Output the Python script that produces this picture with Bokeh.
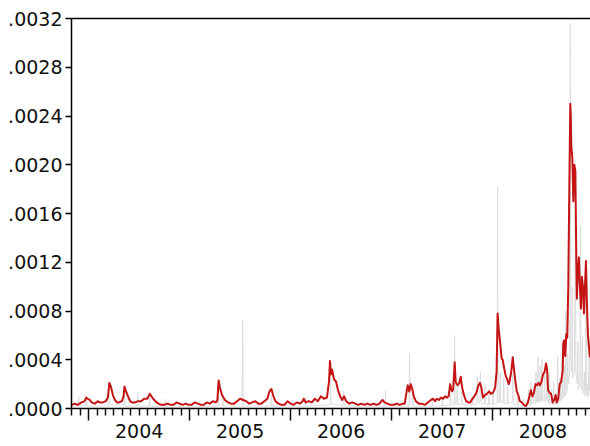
from bokeh.plotting import figure
from bokeh.models import Range1d, LinearAxis, FixedTicker, CustomJSTickFormatter
from bokeh.embed import file_html
from bokeh.resources import INLINE

# calendar years shown on the time axis
years = [2004, 2005, 2006, 2007, 2008]
y_ticks = [0.0000, 0.0004, 0.0008, 0.0012, 0.0016, 0.0020, 0.0024, 0.0028, 0.0032]

# conditional variance (decimal year, value)
cond_var = [
    (2003.832, 0.00003), (2003.86, 0.00004), (2003.89, 0.00003), (2003.93, 0.00005),
    (2003.96, 0.00006), (2003.975, 0.00009), (2003.99, 0.00008), (2004.01, 0.00007),
    (2004.03, 0.00005), (2004.06, 0.00004), (2004.09, 0.00006), (2004.11, 0.00005),
    (2004.14, 0.00005), (2004.17, 0.00006), (2004.19, 0.00009), (2004.205, 0.00021),
    (2004.22, 0.00018), (2004.24, 0.00011), (2004.26, 0.00007), (2004.28, 0.00005),
    (2004.30, 0.00005), (2004.33, 0.00006), (2004.345, 0.00010), (2004.355, 0.00018),
    (2004.37, 0.00014), (2004.39, 0.00010), (2004.41, 0.00006), (2004.43, 0.00005),
    (2004.46, 0.00005), (2004.49, 0.00006), (2004.52, 0.00006), (2004.55, 0.00008),
    (2004.58, 0.00008), (2004.605, 0.00012), (2004.63, 0.00009), (2004.66, 0.00006),
    (2004.69, 0.00004), (2004.72, 0.00003), (2004.75, 0.00003), (2004.78, 0.00004),
    (2004.81, 0.00003), (2004.84, 0.00003), (2004.87, 0.00005), (2004.90, 0.00004),
    (2004.93, 0.00003), (2004.96, 0.00004), (2004.99, 0.00003), (2005.02, 0.00003),
    (2005.05, 0.00005), (2005.08, 0.00004), (2005.11, 0.00003), (2005.14, 0.00003),
    (2005.17, 0.00005), (2005.20, 0.00004), (2005.23, 0.00006), (2005.26, 0.00005),
    (2005.275, 0.00007), (2005.287, 0.00023), (2005.30, 0.00017), (2005.32, 0.00011),
    (2005.35, 0.00007), (2005.38, 0.00005), (2005.41, 0.00004), (2005.44, 0.00004),
    (2005.47, 0.00006), (2005.50, 0.00008), (2005.53, 0.00007), (2005.56, 0.00006),
    (2005.59, 0.00004), (2005.62, 0.00005), (2005.65, 0.00006), (2005.68, 0.00004),
    (2005.71, 0.00004), (2005.74, 0.00006), (2005.77, 0.00008), (2005.79, 0.00014),
    (2005.81, 0.00016), (2005.83, 0.00010), (2005.85, 0.00006), (2005.88, 0.00004),
    (2005.91, 0.00003), (2005.94, 0.00003), (2005.97, 0.00006), (2006.00, 0.00004),
    (2006.03, 0.00003), (2006.06, 0.00005), (2006.09, 0.00004), (2006.12, 0.00006),
    (2006.13, 0.00008), (2006.15, 0.00005), (2006.18, 0.00006), (2006.21, 0.00005),
    (2006.24, 0.00008), (2006.27, 0.00006), (2006.30, 0.00010), (2006.33, 0.00008),
    (2006.36, 0.00009), (2006.38, 0.00022), (2006.39, 0.00039), (2006.40, 0.00028),
    (2006.41, 0.00032), (2006.43, 0.00024), (2006.45, 0.00022), (2006.47, 0.00015),
    (2006.49, 0.00010), (2006.51, 0.00007), (2006.53, 0.00010), (2006.55, 0.00006),
    (2006.58, 0.00004), (2006.61, 0.00005), (2006.64, 0.00004), (2006.67, 0.00003),
    (2006.70, 0.00004), (2006.73, 0.00003), (2006.76, 0.00004), (2006.79, 0.00003),
    (2006.82, 0.00004), (2006.85, 0.00003), (2006.88, 0.00004), (2006.91, 0.00007),
    (2006.93, 0.00005), (2006.96, 0.00004), (2006.99, 0.00003), (2007.02, 0.00003),
    (2007.05, 0.00004), (2007.08, 0.00003), (2007.11, 0.00004), (2007.13, 0.00004),
    (2007.145, 0.00012), (2007.16, 0.00019), (2007.175, 0.00014), (2007.19, 0.00020),
    (2007.205, 0.00016), (2007.22, 0.00010), (2007.24, 0.00006), (2007.27, 0.00004),
    (2007.30, 0.00004), (2007.33, 0.00003), (2007.36, 0.00005), (2007.39, 0.00007),
    (2007.41, 0.00008), (2007.43, 0.00006), (2007.45, 0.00008), (2007.47, 0.00007),
    (2007.49, 0.00009), (2007.51, 0.00008), (2007.53, 0.00010), (2007.55, 0.00009),
    (2007.565, 0.00010), (2007.58, 0.00020), (2007.59, 0.00016), (2007.60, 0.00014),
    (2007.61, 0.00016), (2007.625, 0.00038), (2007.635, 0.00022), (2007.645, 0.00020),
    (2007.655, 0.00019), (2007.67, 0.00021), (2007.685, 0.00026), (2007.695, 0.00019),
    (2007.71, 0.00013), (2007.725, 0.00009), (2007.74, 0.00006), (2007.76, 0.00005),
    (2007.78, 0.00005), (2007.80, 0.00008), (2007.82, 0.00010), (2007.84, 0.00013),
    (2007.86, 0.00019), (2007.875, 0.00021), (2007.89, 0.00017), (2007.905, 0.00009),
    (2007.925, 0.00011), (2007.945, 0.00012), (2007.965, 0.00014), (2007.985, 0.00012),
    (2008.005, 0.00013), (2008.025, 0.00017), (2008.04, 0.00030), (2008.05, 0.00078),
    (2008.06, 0.00066), (2008.07, 0.00058), (2008.08, 0.00050), (2008.09, 0.00041),
    (2008.10, 0.00040), (2008.115, 0.00033), (2008.13, 0.00027), (2008.145, 0.00024),
    (2008.16, 0.00020), (2008.17, 0.00023), (2008.185, 0.00030), (2008.20, 0.00042),
    (2008.21, 0.00034), (2008.225, 0.00023), (2008.24, 0.00014), (2008.255, 0.00011),
    (2008.27, 0.00006), (2008.29, 0.00005), (2008.31, 0.00003), (2008.33, 0.00002),
    (2008.35, 0.00005), (2008.365, 0.00010), (2008.38, 0.00015), (2008.395, 0.00010),
    (2008.41, 0.00013), (2008.425, 0.00020), (2008.44, 0.00019), (2008.455, 0.00021),
    (2008.47, 0.00019), (2008.485, 0.00022), (2008.50, 0.00028), (2008.515, 0.00030),
    (2008.53, 0.00037), (2008.54, 0.00032), (2008.55, 0.00015), (2008.565, 0.00013),
    (2008.58, 0.00012), (2008.595, 0.00005), (2008.61, 0.00007), (2008.625, 0.00011),
    (2008.635, 0.00005), (2008.65, 0.00008), (2008.665, 0.00020), (2008.68, 0.00022),
    (2008.695, 0.00031), (2008.70, 0.00053), (2008.71, 0.00056), (2008.72, 0.00043),
    (2008.73, 0.00061), (2008.74, 0.00058), (2008.75, 0.00100), (2008.76, 0.00180),
    (2008.77, 0.00250), (2008.775, 0.00240), (2008.78, 0.00215), (2008.79, 0.00206),
    (2008.80, 0.00170), (2008.81, 0.00200), (2008.82, 0.00195), (2008.83, 0.00120),
    (2008.835, 0.00090), (2008.845, 0.00113), (2008.855, 0.00124), (2008.865, 0.00100),
    (2008.875, 0.00082), (2008.885, 0.00108), (2008.895, 0.00100), (2008.905, 0.00078),
    (2008.915, 0.00100), (2008.925, 0.00121), (2008.935, 0.00085), (2008.945, 0.00060),
    (2008.955, 0.00050), (2008.965, 0.00042),
]

# squared returns (decimal year, value)
sq_ret = [
    (2003.832, 0.00002), (2003.895, 0.00002), (2003.90, 0.00010), (2003.905, 0.00002),
    (2003.97, 0.00003), (2003.975, 0.00009), (2003.98, 0.00002),
    (2004.19, 0.00002), (2004.198, 0.00016), (2004.205, 0.00003),
    (2004.35, 0.00003), (2004.356, 0.00012), (2004.362, 0.00002),
    (2004.48, 0.00002), (2004.485, 0.00013), (2004.49, 0.00002),
    (2004.60, 0.00002), (2004.605, 0.00010), (2004.61, 0.00002),
    (2004.755, 0.00002), (2004.76, 0.00008), (2004.765, 0.00001),
    (2004.90, 0.00001), (2004.905, 0.00005), (2004.91, 0.00001),
    (2005.28, 0.00002), (2005.287, 0.00015), (2005.294, 0.00002),
    (2005.325, 0.00002), (2005.33, 0.00012), (2005.335, 0.00002),
    (2005.52, 0.00002), (2005.525, 0.00072), (2005.53, 0.00002),
    (2005.805, 0.00002), (2005.81, 0.00011), (2005.815, 0.00002),
    (2006.145, 0.00002), (2006.15, 0.00009), (2006.155, 0.00002),
    (2006.39, 0.00003), (2006.396, 0.00030), (2006.40, 0.00004),
    (2006.52, 0.00002), (2006.525, 0.00014), (2006.53, 0.00002),
    (2006.935, 0.00002), (2006.94, 0.00015), (2006.945, 0.00002),
    (2007.172, 0.00002), (2007.178, 0.00045), (2007.184, 0.00003),
    (2007.205, 0.00003), (2007.21, 0.00016), (2007.215, 0.00002),
    (2007.40, 0.00002), (2007.405, 0.00009), (2007.41, 0.00002),
    (2007.50, 0.00002), (2007.505, 0.00010), (2007.51, 0.00002),
    (2007.58, 0.00003), (2007.585, 0.00012), (2007.59, 0.00003),
    (2007.619, 0.00003), (2007.624, 0.00060), (2007.629, 0.00004),
    (2007.645, 0.00004), (2007.65, 0.00018), (2007.655, 0.00003),
    (2007.69, 0.00004), (2007.695, 0.00014), (2007.70, 0.00003),
    (2007.80, 0.00003), (2007.805, 0.00010), (2007.81, 0.00003),
    (2007.845, 0.00004), (2007.85, 0.00026), (2007.855, 0.00004),
    (2007.875, 0.00005), (2007.88, 0.00030), (2007.885, 0.00004),
    (2007.92, 0.00004), (2007.925, 0.00020), (2007.93, 0.00004),
    (2007.96, 0.00003), (2007.965, 0.00016), (2007.97, 0.00004),
    (2008.00, 0.00004), (2008.005, 0.00014), (2008.01, 0.00003),
    (2008.045, 0.00005), (2008.05, 0.00182), (2008.055, 0.00006),
    (2008.07, 0.00005), (2008.075, 0.00030), (2008.08, 0.00005),
    (2008.105, 0.00005), (2008.11, 0.00025), (2008.115, 0.00004),
    (2008.145, 0.00004), (2008.15, 0.00018), (2008.155, 0.00004),
    (2008.195, 0.00005), (2008.20, 0.00028), (2008.205, 0.00004),
    (2008.245, 0.00003), (2008.25, 0.00010), (2008.255, 0.00002),
    (2008.30, 0.00002), (2008.305, 0.00008), (2008.31, 0.00002),
    (2008.35, 0.00003), (2008.355, 0.00016), (2008.36, 0.00003),
    (2008.375, 0.00003), (2008.38, 0.00022), (2008.385, 0.00003),
    (2008.40, 0.00004), (2008.405, 0.00012), (2008.41, 0.00004),
    (2008.425, 0.00004), (2008.43, 0.00030), (2008.435, 0.00005),
    (2008.445, 0.00005), (2008.45, 0.00042), (2008.455, 0.00006),
    (2008.465, 0.00006), (2008.47, 0.00035), (2008.475, 0.00006),
    (2008.485, 0.00006), (2008.49, 0.00040), (2008.495, 0.00007),
    (2008.51, 0.00006), (2008.515, 0.00030), (2008.52, 0.00006),
    (2008.535, 0.00008), (2008.54, 0.00025), (2008.545, 0.00005),
    (2008.555, 0.00005), (2008.56, 0.00030), (2008.565, 0.00004),
    (2008.58, 0.00004), (2008.585, 0.00015), (2008.59, 0.00003),
    (2008.60, 0.00003), (2008.605, 0.00022), (2008.61, 0.00003),
    (2008.625, 0.00004), (2008.63, 0.00012), (2008.635, 0.00003),
    (2008.64, 0.00004), (2008.645, 0.00042), (2008.65, 0.00004),
    (2008.665, 0.00006), (2008.67, 0.00025), (2008.675, 0.00006),
    (2008.685, 0.00008), (2008.69, 0.00055), (2008.695, 0.00008),
    (2008.705, 0.00010), (2008.71, 0.00035), (2008.715, 0.00010),
    (2008.72, 0.00012), (2008.725, 0.00080), (2008.73, 0.00012),
    (2008.74, 0.00015), (2008.745, 0.00045), (2008.75, 0.00020),
    (2008.765, 0.00030), (2008.77, 0.00316), (2008.775, 0.00040),
    (2008.785, 0.00030), (2008.79, 0.00100), (2008.795, 0.00025),
    (2008.81, 0.00030), (2008.815, 0.00090), (2008.82, 0.00160), (2008.825, 0.00030),
    (2008.84, 0.00020), (2008.845, 0.00055), (2008.85, 0.00015),
    (2008.865, 0.00020), (2008.87, 0.00150), (2008.875, 0.00020),
    (2008.885, 0.00015), (2008.89, 0.00060), (2008.895, 0.00012),
    (2008.905, 0.00015), (2008.91, 0.00030), (2008.915, 0.00010),
    (2008.92, 0.00012), (2008.925, 0.00090), (2008.93, 0.00015),
    (2008.94, 0.00010), (2008.945, 0.00020), (2008.95, 0.00010),
    (2008.955, 0.00060), (2008.96, 0.00015), (2008.97, 0.00030),
]

FONT = "DejaVu Sans"
X_START, X_END = 2003.83, 2008.97

p = figure(width=590, height=446, output_backend="svg", toolbar_location=None,
           x_range=Range1d(X_START, X_END), y_range=Range1d(0, 0.0032),
           x_axis_type=None, y_axis_type=None,
           min_border_left=71, min_border_right=0, min_border_top=18, min_border_bottom=38)
p.outline_line_color = None
p.background_fill_color = "white"
p.border_fill_color = "white"

sq_t = [t for t, _ in sq_ret]
sq_v = [v for _, v in sq_ret]
cv_t = [t for t, _ in cond_var]
cv_v = [v for _, v in cond_var]

p.line(sq_t, sq_v, line_color="#dcdcdc", line_width=1.0)
p.line(cv_t, cv_v, line_color="#c41414", line_width=2.0, line_join="round")

# left value axis
yaxis = LinearAxis(
    ticker=FixedTicker(ticks=y_ticks, minor_ticks=[]),
    formatter=CustomJSTickFormatter(code="return tick.toFixed(4).replace(/^0/, '');"),
    major_tick_out=6, major_tick_in=0, minor_tick_out=0, minor_tick_in=0,
    major_label_standoff=3, axis_line_width=1.5, major_tick_line_width=1.5,
    major_label_text_font=FONT, major_label_text_font_size="19px",
    major_label_text_color="#111111",
)
p.add_layout(yaxis, "left")

# time axis: long ticks at year boundaries, short ticks at months
months = [y + m / 12 for y in range(2003, 2009) for m in range(1, 12)]
months = [m for m in months if X_START <= m <= X_END]
xaxis = LinearAxis(
    ticker=FixedTicker(ticks=years, minor_ticks=months),
    major_tick_out=12, major_tick_in=0, minor_tick_out=7, minor_tick_in=0,
    axis_line_width=1.5, major_tick_line_width=1.5, minor_tick_line_width=1.5,
    major_tick_line_color="#111111", minor_tick_line_color="#111111",
    major_label_text_font_size="0px", major_label_text_alpha=0, major_label_standoff=0,
)
p.add_layout(xaxis, "below")

# year labels centred within each year
year_labels = LinearAxis(
    ticker=FixedTicker(ticks=[y + 0.5 for y in years], minor_ticks=[]),
    formatter=CustomJSTickFormatter(code="return String(Math.floor(tick));"),
    major_tick_out=0, major_tick_in=0, minor_tick_out=0, minor_tick_in=0,
    axis_line_color=None, major_label_standoff=3,
    major_label_text_font=FONT, major_label_text_font_size="19px",
    major_label_text_color="#111111",
)
p.add_layout(year_labels, "below")

# top frame line
top = LinearAxis(
    ticker=FixedTicker(ticks=[], minor_ticks=[]),
    major_tick_out=0, major_tick_in=0, minor_tick_out=0, minor_tick_in=0,
    axis_line_width=1.5, major_label_text_font_size="0px", major_label_standoff=0,
)
p.add_layout(top, "above")

open("out.html", "w").write(file_html(p, INLINE))
